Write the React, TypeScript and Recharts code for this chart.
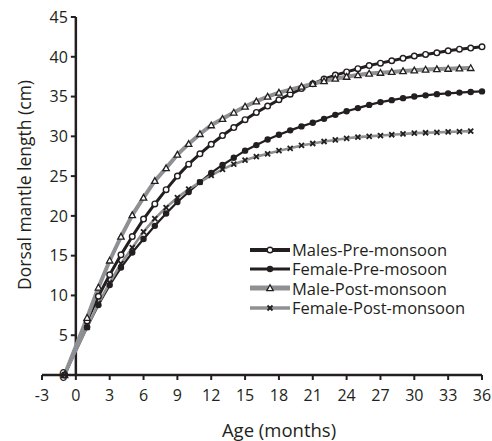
import React from "react";
import {
  LineChart,
  Line,
  XAxis,
  YAxis,
  Legend,
  ReferenceLine,
} from "recharts";

// age in months (first point is the t0 intercept)
const AGE = [
  -1, 1, 2, 3, 4, 5, 6, 7, 8, 9, 10, 11, 12, 13, 14, 15, 16, 17, 18, 19, 20,
  21, 22, 23, 24, 25, 26, 27, 28, 29, 30, 31, 32, 33, 34, 35, 36,
];

const MALES_PRE = [
  0, 6.8, 9.9, 12.6, 15.1, 17.4, 19.6, 21.5, 23.3, 25.0, 26.5, 27.8, 29.0,
  30.1, 31.1, 32.1, 33.0, 33.8, 34.6, 35.3, 36.0, 36.6, 37.2, 37.7, 38.1, 38.5,
  38.9, 39.2, 39.5, 39.8, 40.1, 40.3, 40.5, 40.75, 40.95, 41.1, 41.25,
];

const FEMALE_PRE = [
  0, 6.0, 8.8, 11.3, 13.5, 15.4, 17.1, 18.75, 20.3, 21.75, 23.0, 24.25, 25.4,
  26.4, 27.3, 28.2, 28.9, 29.6, 30.2, 30.75, 31.25, 31.7, 32.2, 32.7, 33.15,
  33.55, 33.95, 34.3, 34.55, 34.8, 35.0, 35.15, 35.3, 35.4, 35.5, 35.58, 35.65,
];

const MALE_POST = [
  0, 7.2, 11.0, 14.4, 17.4, 20.1, 22.3, 24.4, 26.0, 27.7, 29.05, 30.3, 31.4,
  32.2, 33.0, 33.75, 34.4, 35.0, 35.5, 35.85, 36.25, 36.6, 36.95, 37.25, 37.5,
  37.7, 37.9, 38.0, 38.1, 38.2, 38.3, 38.4, 38.45, 38.5, 38.55, 38.6, null,
];

const FEMALE_POST = [
  0, 6.0, 9.0, 11.6, 14.0, 16.0, 18.0, 19.65, 21.05, 22.3, 23.35, 24.25, 25.1,
  25.85, 26.5, 27.0, 27.45, 27.8, 28.2, 28.5, 28.85, 29.1, 29.35, 29.55, 29.75,
  29.9, 30.0, 30.1, 30.2, 30.3, 30.4, 30.45, 30.5, 30.55, 30.6, 30.65, null,
];

const X_TICKS = [-3, 0, 3, 6, 9, 12, 15, 18, 21, 24, 27, 30, 33, 36];
const Y_TICKS = [0, 5, 10, 15, 20, 25, 30, 35, 40, 45];

const INK = "#231f20";
const GREY = "#8e9093";
const FONT = "'Open Sans', sans-serif";

const W = 492;
const H = 441;
const Y_AXIS_W = 1;
const MARGIN = { top: 17, right: 10, left: 41, bottom: 0 };
const PLOT_W = W - MARGIN.left - Y_AXIS_W - MARGIN.right;
// y axis sits at age 0, not at the left edge of the plot
const Y_SHIFT = (PLOT_W * 3) / 39;

const data = AGE.map((age, i) => ({
  age,
  malesPre: MALES_PRE[i],
  femalePre: FEMALE_PRE[i],
  malePost: MALE_POST[i],
  femalePost: FEMALE_POST[i],
}));

function OpenDot({ cx, cy }: any) {
  if (cx == null || cy == null) return null;
  return <circle cx={cx} cy={cy} r={2.8} fill="#fff" stroke={INK} strokeWidth={1.4} />;
}

function FilledDot({ cx, cy }: any) {
  if (cx == null || cy == null) return null;
  return <circle cx={cx} cy={cy} r={3.2} fill={INK} />;
}

function TriDot({ cx, cy }: any) {
  if (cx == null || cy == null) return null;
  const s = 3.2;
  return (
    <path
      d={`M${cx},${cy - s} L${cx + s},${cy + s * 0.8} L${cx - s},${cy + s * 0.8} Z`}
      fill="#fff"
      stroke={INK}
      strokeWidth={1.3}
    />
  );
}

function CrossDot({ cx, cy }: any) {
  if (cx == null || cy == null) return null;
  const s = 2.5;
  return (
    <g stroke={INK} strokeWidth={1.8}>
      <line x1={cx - s} y1={cy - s} x2={cx + s} y2={cy + s} />
      <line x1={cx - s} y1={cy + s} x2={cx + s} y2={cy - s} />
    </g>
  );
}

const SERIES = [
  { key: "malesPre", name: "Males-Pre-monsoon", color: INK, width: 3, Dot: OpenDot },
  { key: "femalePre", name: "Female-Pre-mosoon", color: INK, width: 2.2, Dot: FilledDot },
  { key: "malePost", name: "Male-Post-monsoon", color: GREY, width: 4, Dot: TriDot },
  { key: "femalePost", name: "Female-Post-monsoon", color: GREY, width: 2.6, Dot: CrossDot },
];

function YTick({ x, y, payload }: any) {
  const ax = x + Y_SHIFT;
  return (
    <g>
      <line x1={ax - 5} x2={ax} y1={y} y2={y} stroke={INK} strokeWidth={2} />
      <text
        x={ax - 8}
        y={y}
        dy="0.36em"
        textAnchor="end"
        fontFamily={FONT}
        fontSize={16}
        fill={INK}
      >
        {payload.value}
      </text>
    </g>
  );
}

function LegendBox() {
  return (
    <div style={{ fontFamily: FONT, fontSize: 16.5, color: INK }}>
      {SERIES.map((s) => (
        <div
          key={s.key}
          style={{ display: "flex", alignItems: "center", height: 19.3, whiteSpace: "nowrap" }}
        >
          <svg width={42} height={14} style={{ marginRight: 1, flex: "none" }}>
            <line x1={1} x2={41} y1={7} y2={7} stroke={s.color} strokeWidth={s.width + 0.8} />
            <s.Dot cx={21} cy={7} />
          </svg>
          <span
            style={{
              display: "inline-block",
              height: 19,
              lineHeight: "19px",
              overflow: "visible",
            }}
          >
            {s.name}
          </span>
        </div>
      ))}
    </div>
  );
}

function YTitle({ viewBox }: any) {
  const cy = viewBox.y + viewBox.height / 2 - 11;
  return (
    <text
      x={31}
      y={cy}
      transform={`rotate(-90, 31, ${cy})`}
      textAnchor="middle"
      fontFamily={FONT}
      fontSize={17.5}
      fill={INK}
    >
      Dorsal mantle length (cm)
    </text>
  );
}

export default function App() {
  return (
    <div style={{ width: W, height: H }}>
      <style>{`body{margin:0}`}</style>
      <LineChart width={W} height={H} data={data} margin={MARGIN}>
        <XAxis
          dataKey="age"
          type="number"
          domain={[-3, 36]}
          ticks={X_TICKS}
          interval={0}
          height={66}
          axisLine={{ stroke: INK, strokeWidth: 2.5 }}
          tickLine={{ stroke: INK, strokeWidth: 2 }}
          tickSize={5}
          tickMargin={10}
          tick={{ fill: INK, fontSize: 16, fontFamily: FONT }}
          label={{
            value: "Age (months)",
            position: "insideBottom",
            offset: 4,
            dx: 17,
            fill: INK,
            fontSize: 18.5,
            fontFamily: FONT,
          }}
        />
        <YAxis
          type="number"
          domain={[0, 45]}
          ticks={Y_TICKS}
          interval={0}
          width={Y_AXIS_W}
          axisLine={false}
          tickLine={false}
          tickSize={0}
          tickMargin={0}
          tick={<YTick />}
          label={{ content: <YTitle /> }}
        />
        <ReferenceLine
          segment={[
            { x: 0, y: 0 },
            { x: 0, y: 45 },
          ]}
          stroke={INK}
          strokeWidth={2.5}
        />
        {SERIES.map((s) => (
          <Line
            key={s.key}
            dataKey={s.key}
            name={s.name}
            type="linear"
            stroke={s.color}
            strokeWidth={s.width}
            dot={<s.Dot />}
            activeDot={false}
            isAnimationActive={false}
          />
        ))}
        <Legend
          layout="vertical"
          align="center"
          verticalAlign="middle"
          content={<LegendBox />}
          wrapperStyle={{ left: 249, top: 240, width: 240 }}
        />
      </LineChart>
    </div>
  );
}
